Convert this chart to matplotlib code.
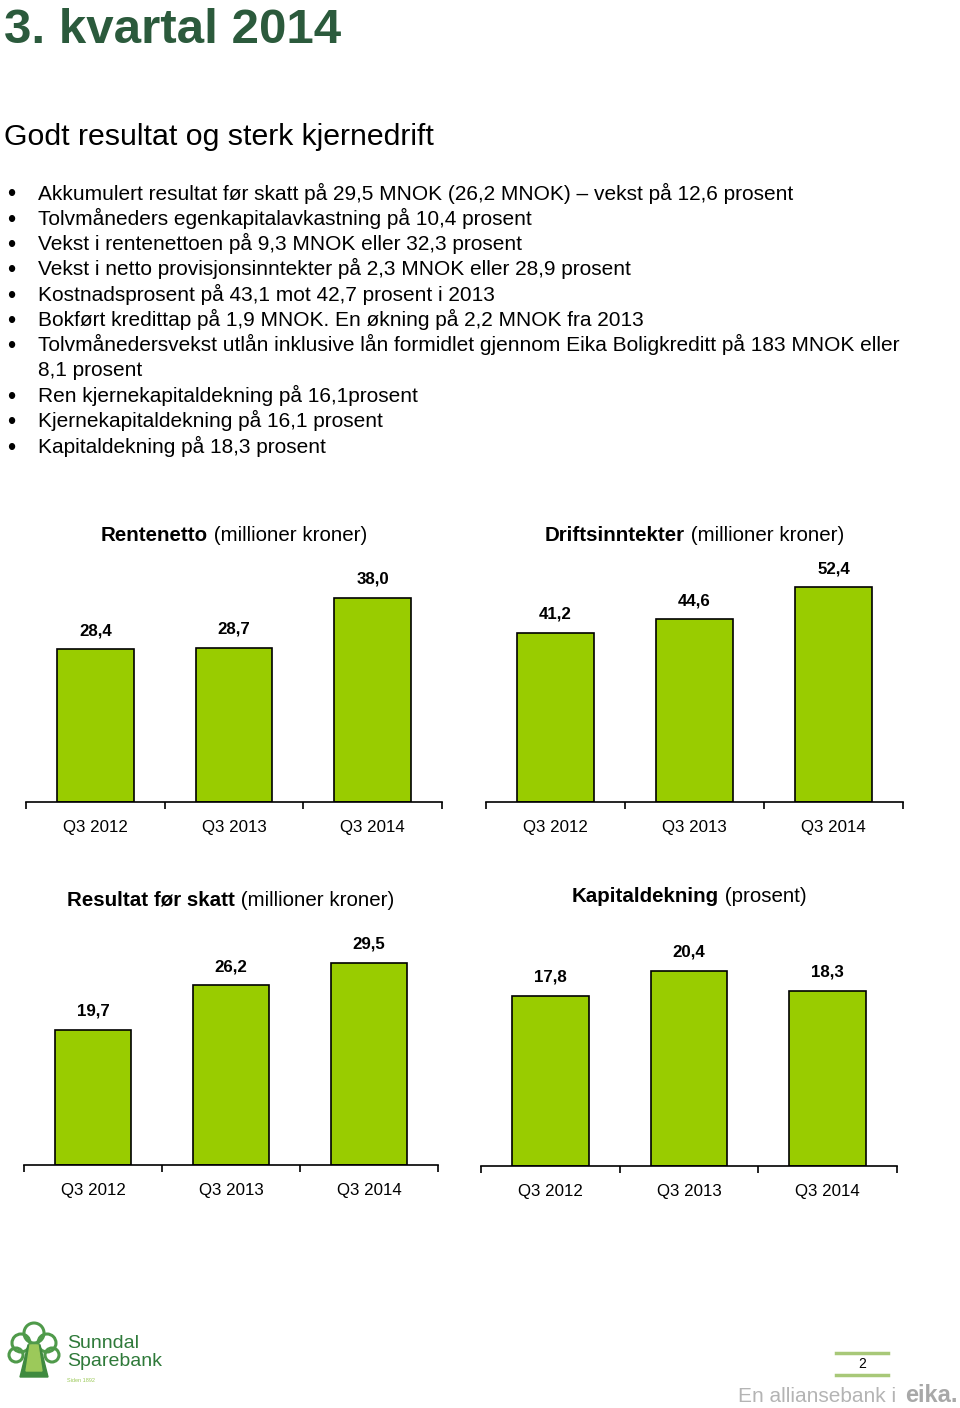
import matplotlib
matplotlib.use("Agg")
import matplotlib.pyplot as plt
from matplotlib.patches import Circle

plt.rcParams['font.family'] = ['Liberation Sans', 'DejaVu Sans']

W, H = 960, 1408

# %% data
title = "3. kvartal 2014"
subtitle = "Godt resultat og sterk kjernedrift"
bullets = [
    "Akkumulert resultat før skatt på 29,5 MNOK (26,2 MNOK) \u2013 vekst på 12,6 prosent",
    "Tolvmåneders egenkapitalavkastning på 10,4 prosent",
    "Vekst i rentenettoen på 9,3 MNOK eller 32,3 prosent",
    "Vekst i netto provisjonsinntekter på 2,3 MNOK eller 28,9 prosent",
    "Kostnadsprosent på 43,1 mot 42,7 prosent i 2013",
    "Bokført kredittap på 1,9 MNOK. En økning på 2,2 MNOK fra 2013",
    "Tolvmånedersvekst utlån inklusive lån formidlet gjennom Eika Boligkreditt på 183 MNOK eller\n8,1 prosent",
    "Ren kjernekapitaldekning på 16,1prosent",
    "Kjernekapitaldekning på 16,1 prosent",
    "Kapitaldekning på 18,3 prosent",
]

periods = ["Q3 2012", "Q3 2013", "Q3 2014"]
rentenetto = [28.4, 28.7, 38.0]
driftsinntekter = [41.2, 44.6, 52.4]
resultat_for_skatt = [19.7, 26.2, 29.5]
kapitaldekning = [17.8, 20.4, 18.3]

fig = plt.figure(figsize=(W / 100, H / 100), dpi=100)
fig.patch.set_facecolor('white')


def fx(x):
    return x / W


def fy(y):
    return 1 - y / H


# %% header text
fig.text(fx(4), fy(43), title, fontsize=35.5, fontweight='bold', color='#2b5a3c',
         va='baseline', ha='left')
fig.text(fx(4), fy(137), subtitle, fontsize=21.8, color='black', va='center', ha='left')

line_h = 25.3
y = 193
for b in bullets:
    fig.text(fx(7), fy(y + 2.5), "\u2022", fontsize=17, va='center', ha='left')
    for part in b.split("\n"):
        fig.text(fx(38), fy(y), part, fontsize=15, va='center', ha='left')
        y += line_h

# %% bar charts
renderer = fig.canvas.get_renderer()


def bar_chart(x0, x1, y_axis, y_top, ymax, values, bold, normal, title_y):
    ax = fig.add_axes([fx(x0), fy(y_axis), (x1 - x0) / W, (y_axis - y_top) / H])
    xs = range(len(values))
    ax.bar(xs, values, width=0.555, color='#99cc00', edgecolor='black', linewidth=1.2)
    for xi, v in zip(xs, values):
        ax.annotate(f"{v:.1f}".replace('.', ','), (xi, v), xytext=(0, 8),
                    textcoords='offset points', ha='center', va='bottom',
                    fontsize=12.2, fontweight='bold')
    ax.set_xlim(-0.5, len(values) - 0.5)
    ax.set_ylim(0, ymax)
    for s in ['left', 'right', 'top']:
        ax.spines[s].set_visible(False)
    ax.spines['bottom'].set_linewidth(1.2)
    ax.set_yticks([])
    ax.set_xticks(list(xs))
    ax.set_xticklabels(periods, fontsize=12.2)
    ax.tick_params(axis='x', which='major', length=0, pad=13)
    ax.set_xticks([i - 0.5 for i in range(len(values) + 1)], minor=True)
    ax.tick_params(axis='x', which='minor', length=5, width=1.2, direction='out')
    ax.patch.set_visible(False)

    # mixed bold / regular title centred over the axis
    cx = (x0 + x1) / 2
    tb = fig.text(0, fy(title_y), bold, fontsize=14.8, fontweight='bold', va='center', ha='left')
    tn = fig.text(0, fy(title_y), " " + normal, fontsize=14.8, va='center', ha='left')
    wb = tb.get_window_extent(renderer).width
    wn = tn.get_window_extent(renderer).width
    left = cx - (wb + wn) / 2
    tb.set_x(fx(left))
    tn.set_x(fx(left + wb))
    return ax


bar_chart(26, 442, 802, 560, 45, rentenetto, "Rentenetto", "(millioner kroner)", 536)
bar_chart(486, 903, 802, 556, 60, driftsinntekter, "Driftsinntekter", "(millioner kroner)", 536)
bar_chart(24, 438, 1165, 925, 35, resultat_for_skatt, "Resultat før skatt", "(millioner kroner)", 900)
bar_chart(481, 897, 1166, 927, 25, kapitaldekning, "Kapitaldekning", "(prosent)", 897)

# %% footer
logo = fig.add_axes([fx(4), fy(1385), 60 / W, 70 / H])
logo.set_xlim(0, 60)
logo.set_ylim(0, 70)
logo.axis('off')
for (cx, cy, r) in [(30, 52, 10), (17, 42, 9), (43, 42, 9), (12, 30, 7), (48, 30, 7)]:
    logo.add_patch(Circle((cx, cy), r, fill=False, edgecolor='#4f9a4a', linewidth=2.2))
logo.fill([24, 36, 44, 16], [40, 40, 8, 8], color='#3f8a3f')
logo.fill([26, 34, 38, 22], [40, 40, 14, 14], color='#9cc95a')

fig.text(fx(67), fy(1343), "Sunndal", fontsize=14, color='#2f7a3a', va='center', ha='left')
fig.text(fx(67), fy(1362), "Sparebank", fontsize=14, color='#2f7a3a', va='center', ha='left')
fig.text(fx(67), fy(1380), "Siden 1892", fontsize=4, color='#9cc95a', va='center', ha='left')

fig.add_artist(plt.Line2D([fx(836), fx(888)], [fy(1353), fy(1353)], color='#a8c878', linewidth=2.5))
fig.add_artist(plt.Line2D([fx(836), fx(888)], [fy(1375), fy(1375)], color='#a8c878', linewidth=2.5))
fig.text(fx(862), fy(1364), "2", fontsize=10, va='center', ha='center')

fig.text(fx(738), fy(1397), "En alliansebank i", fontsize=15, color='#b4b4b4', va='center', ha='left')
fig.text(fx(958), fy(1396), "eika.", fontsize=17, fontweight='bold', color='#a8a8a8',
         va='center', ha='right')

fig.savefig("out.png", dpi=100)
